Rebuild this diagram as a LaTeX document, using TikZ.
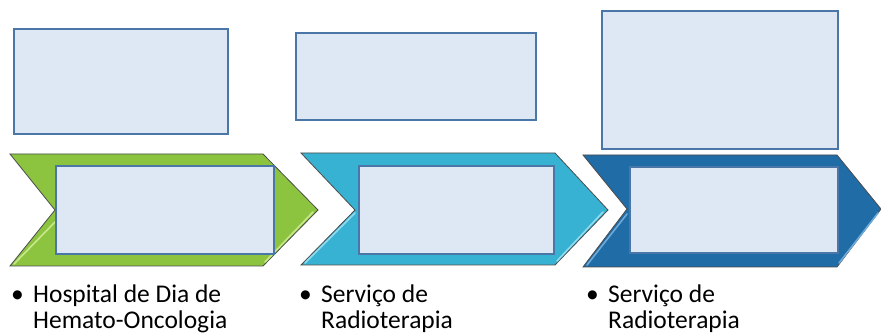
\documentclass[tikz,border=0pt]{standalone}
\usepackage{fontspec}
\setmainfont{Carlito}
\begin{document}
\begin{tikzpicture}[x=1pt,y=-1pt,
  box/.style={draw=boxedge,fill=boxfill,line width=2pt,anchor=north west,inner sep=0pt},
  chev/.style={draw=black!70,line width=0.8pt,line join=miter},
  hilite/.style={line width=1.6pt,line cap=round},
  lbl/.style={anchor=base west,align=left,inner sep=0pt,font=\fontsize{25.5}{26.5}\selectfont}]
\definecolor{boxfill}{HTML}{DEE8F4}
\definecolor{boxedge}{HTML}{4A76A8}
\definecolor{cgreen}{HTML}{8DC43F}
\definecolor{cgreenL}{HTML}{C8E88C}
\definecolor{ccyan}{HTML}{38B2D2}
\definecolor{ccyanL}{HTML}{8FDCF0}
\definecolor{cblue}{HTML}{1F6CA6}
\definecolor{cblueL}{HTML}{6FA9D8}
\useasboundingbox (0,0) rectangle (881,336);
% chevrons
\path[chev,fill=cgreen] (10,154) -- (263,154) -- (318,210) -- (263,266) -- (10,266) -- (55,210) -- cycle;
\draw[hilite,draw=cgreenL] (14,264) -- (55,222);
\draw[hilite,draw=cgreenL] (265,262) -- (313,212);
\path[chev,fill=ccyan] (301,153) -- (555,153) -- (608,210) -- (555,265) -- (301,265) -- (355,210) -- cycle;
\draw[hilite,draw=ccyanL] (305,263) -- (355,213);
\draw[hilite,draw=ccyanL] (557,261) -- (603,212);
\path[chev,fill=cblue] (583,155) -- (837,155) -- (881,209) -- (837,267) -- (583,267) -- (627,209) -- cycle;
\draw[hilite,draw=cblueL] (587,265) -- (627,214);
\draw[hilite,draw=cblueL] (839,263) -- (878,213);
% boxes on chevrons
\node[box,minimum width=218pt,minimum height=88pt] (b1) at (55,165) {};
\node[box,minimum width=195pt,minimum height=88pt] (b2) at (358,165) {};
\node[box,minimum width=208pt,minimum height=86pt] (b3) at (629,166) {};
% top boxes
\node[box,minimum width=214pt,minimum height=105pt] (t1) at (13,28) {};
\node[box,minimum width=240pt,minimum height=87pt] (t2) at (295,32) {};
\node[box,minimum width=236pt,minimum height=138pt] (t3) at (601,10) {};
% labels
\node[lbl] (l1) at (11,329) {\makebox[22pt][l]{•}Hospital de Dia de\\\hspace{22pt}Hemato-Oncologia};
\node[lbl] (l2) at (299,329) {\makebox[22pt][l]{•}Serviço de\\\hspace{22pt}Radioterapia};
\node[lbl] (l3) at (586,329) {\makebox[22pt][l]{•}Serviço de\\\hspace{22pt}Radioterapia};
\end{tikzpicture}
\end{document}
